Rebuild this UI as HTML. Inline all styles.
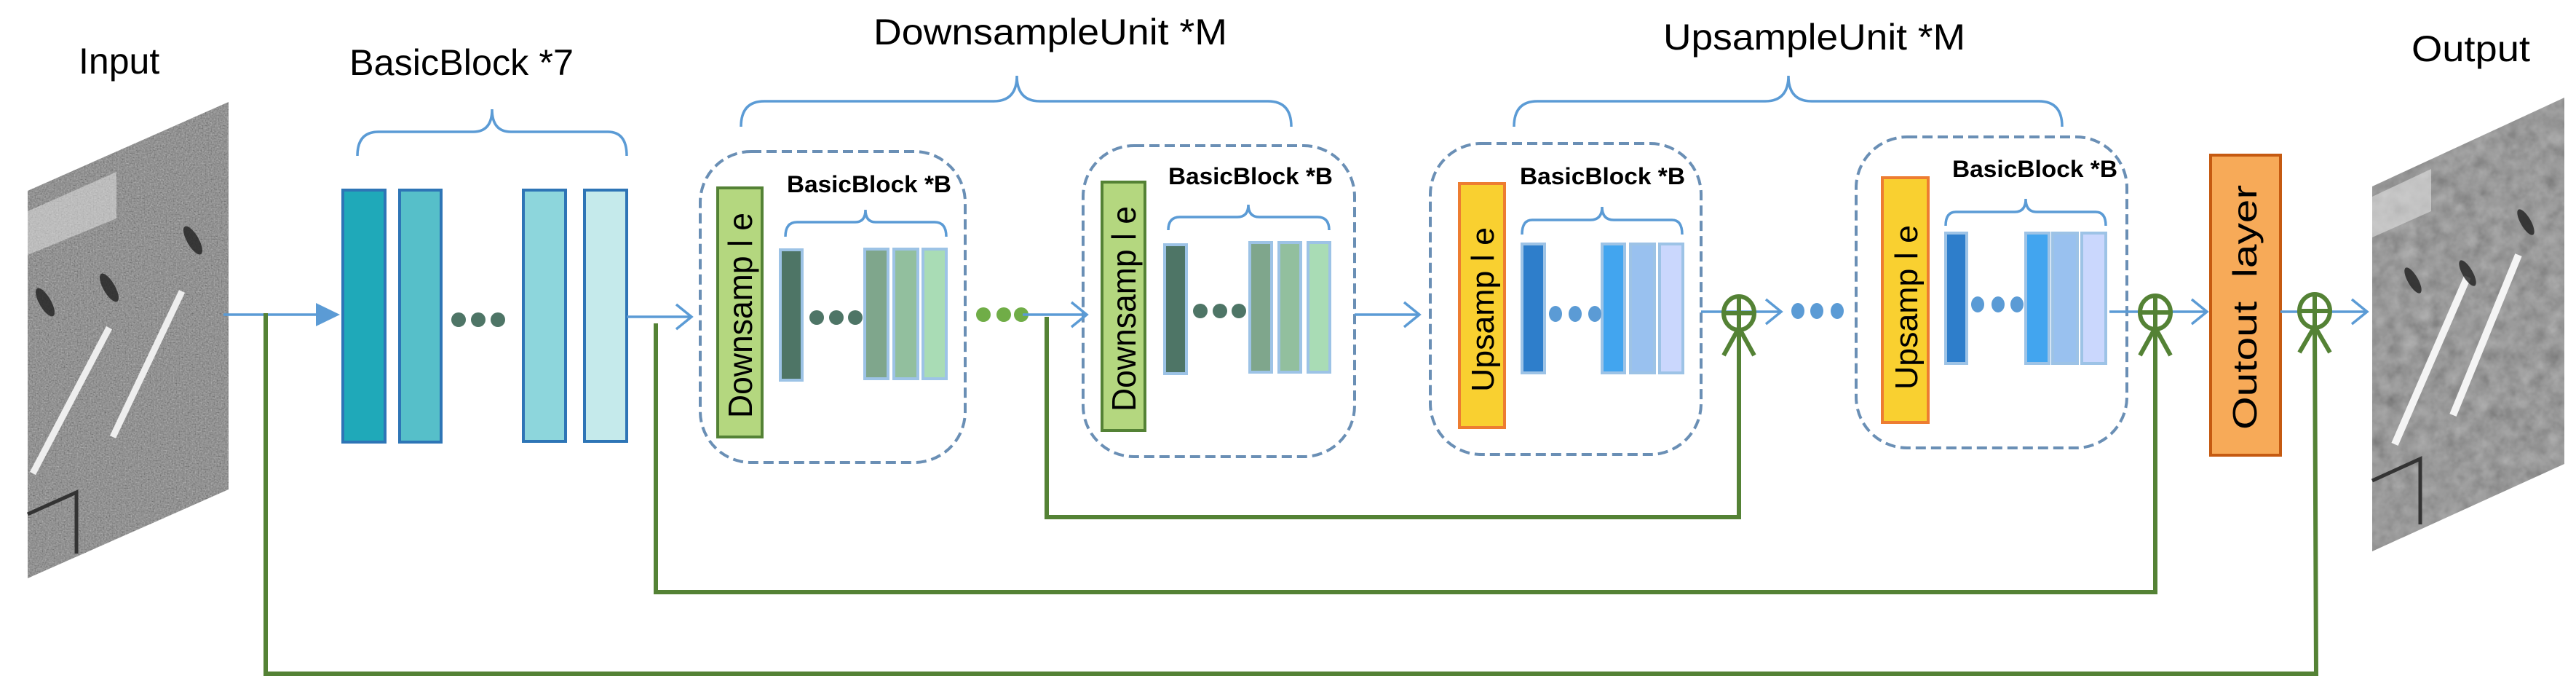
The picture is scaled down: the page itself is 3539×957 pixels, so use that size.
<!DOCTYPE html>
<html><head><meta charset="utf-8"><style>html,body{margin:0;padding:0;background:#fff}svg{display:block}</style></head>
<body>
<svg width="3539" height="957" viewBox="0 0 3539 957" xmlns="http://www.w3.org/2000/svg" font-family="Liberation Sans, sans-serif">
<defs>
<filter id="noise" x="0" y="0" width="100%" height="100%">
<feTurbulence type="fractalNoise" baseFrequency="0.5" numOctaves="2" seed="3" result="n"/>
<feColorMatrix in="n" type="matrix" values="0.33 0.33 0.33 0 0  0.33 0.33 0.33 0 0  0.33 0.33 0.33 0 0  0 0 0 0 1" result="g"/>
<feComposite in="g" in2="SourceGraphic" operator="in" result="gn"/>
<feBlend in="SourceGraphic" in2="gn" mode="multiply"/>
</filter>
<filter id="noise2" x="0" y="0" width="100%" height="100%">
<feTurbulence type="fractalNoise" baseFrequency="0.05" numOctaves="3" seed="7" result="n"/>
<feColorMatrix in="n" type="matrix" values="0.33 0.33 0.33 0 0.2  0.33 0.33 0.33 0 0.2  0.33 0.33 0.33 0 0.2  0 0 0 0 1" result="g"/>
<feComposite in="g" in2="SourceGraphic" operator="in" result="gn"/>
<feBlend in="SourceGraphic" in2="gn" mode="multiply"/>
</filter>
</defs>
<!-- Input image -->
<g filter="url(#noise)">
<polygon points="38,262 314,140 314,672 38,794" fill="#c8c8c8"/>
</g>
<polygon points="38,290 160,236 160,300 38,350" fill="#e8e8e8" opacity="0.5"/>
<line x1="45" y1="650" x2="150" y2="450" stroke="#eeeeee" stroke-width="9"/>
<line x1="155" y1="600" x2="250" y2="400" stroke="#eeeeee" stroke-width="9"/>
<g fill="#202020" opacity="0.8">
<ellipse cx="62" cy="415" rx="8" ry="22" transform="rotate(-30 62 415)"/>
<ellipse cx="150" cy="395" rx="8" ry="22" transform="rotate(-30 150 395)"/>
<ellipse cx="265" cy="330" rx="8" ry="22" transform="rotate(-30 265 330)"/>
</g>
<polyline points="38,706 105,676 105,760" fill="none" stroke="#333" stroke-width="5"/>
<text x="108" y="101" font-size="50">Input</text>
<!-- Output image -->
<g filter="url(#noise2)">
<polygon points="3259,256 3523,134 3523,637 3259,757" fill="#b4b4b4"/>
</g>
<polygon points="3259,270 3340,232 3340,290 3259,326" fill="#e0e0e0" opacity="0.6"/>
<line x1="3290" y1="610" x2="3390" y2="380" stroke="#f4f4f4" stroke-width="10"/>
<line x1="3370" y1="570" x2="3460" y2="350" stroke="#f4f4f4" stroke-width="10"/>
<g fill="#202020" opacity="0.8">
<ellipse cx="3315" cy="385" rx="7" ry="20" transform="rotate(-30 3315 385)"/>
<ellipse cx="3390" cy="375" rx="7" ry="20" transform="rotate(-30 3390 375)"/>
<ellipse cx="3470" cy="305" rx="7" ry="20" transform="rotate(-30 3470 305)"/>
</g>
<polyline points="3259,660 3325,630 3325,720" fill="none" stroke="#333" stroke-width="5"/>
<text x="3313" y="84" font-size="50" textLength="163" lengthAdjust="spacingAndGlyphs">Output</text>

<!-- titles -->
<text x="480" y="103" font-size="50" textLength="308" lengthAdjust="spacingAndGlyphs">BasicBlock *7</text>
<text x="1200" y="61" font-size="50" textLength="486" lengthAdjust="spacingAndGlyphs">DownsampleUnit *M</text>
<text x="2285" y="68" font-size="50" textLength="415" lengthAdjust="spacingAndGlyphs">UpsampleUnit *M</text>

<!-- braces -->
<g fill="none" stroke="#5b9bd5" stroke-width="3.5">
<path d="M491,214 Q491,181 520,181 L650,181 Q676,181 676,150 Q676,181 702,181 L835,181 Q861,181 861,214"/>
<path d="M1018,174 Q1018,139 1050,139 L1365,139 Q1397,139 1397,104 Q1397,139 1429,139 L1742,139 Q1774,139 1774,174"/>
<path d="M2080,174 Q2080,139 2112,139 L2425,139 Q2457,139 2457,104 Q2457,139 2489,139 L2801,139 Q2833,139 2833,174"/>
<path d="M1079,325 Q1079,305 1095,305 L1175,305 Q1189,305 1189,288 Q1189,305 1203,305 L1284,305 Q1300,305 1300,325"/>
<path d="M1605,316 Q1605,298 1621,298 L1700,298 Q1715,298 1715,281 Q1715,298 1730,298 L1810,298 Q1826,298 1826,316"/>
<path d="M2091,322 Q2091,302 2105,302 L2185,302 Q2201,302 2201,284 Q2201,302 2217,302 L2297,302 Q2311,302 2311,322"/>
<path d="M2673,310 Q2673,291 2687,291 L2768,291 Q2783,291 2783,273 Q2783,291 2798,291 L2879,291 Q2893,291 2893,310"/>
</g>

<!-- BasicBlock*7 bars -->
<g stroke="#2e75b6" stroke-width="4">
<rect x="471" y="261" width="58" height="346" fill="#1fa9b9"/>
<rect x="549" y="261" width="57" height="346" fill="#56bfc9"/>
<rect x="719" y="261" width="58" height="345" fill="#8dd6dc"/>
<rect x="803" y="261" width="58" height="345" fill="#c5eaeb"/>
</g>
<g fill="#4e7566"><circle cx="630" cy="439" r="10"/><circle cx="657" cy="439" r="10"/><circle cx="684" cy="439" r="10"/></g>

<!-- dashed boxes -->
<g fill="none" stroke="#6a8fb5" stroke-width="4" stroke-dasharray="14,7">
<rect x="962" y="208" width="364" height="427" rx="70"/>
<rect x="1488" y="200" width="373" height="427" rx="70"/>
<rect x="1965" y="197" width="372" height="427" rx="70"/>
<rect x="2550" y="188" width="372" height="427" rx="70"/>
</g>

<!-- Downsample rects -->
<g stroke="#548235" stroke-width="4" fill="#b4d77f">
<rect x="986" y="258" width="61" height="342"/>
<rect x="1514" y="250" width="59" height="341"/>
</g>
<g font-size="46" fill="#000">
<text transform="translate(1033,574) rotate(-90)" textLength="282" lengthAdjust="spacingAndGlyphs">Downsamp l e</text>
<text transform="translate(1560,565) rotate(-90)" textLength="282" lengthAdjust="spacingAndGlyphs">Downsamp l e</text>
</g>
<!-- Upsample rects -->
<g stroke="#ed7d31" stroke-width="4" fill="#f9d030">
<rect x="2005" y="252" width="62" height="335"/>
<rect x="2586" y="244" width="63" height="336"/>
</g>
<g font-size="44" fill="#000">
<text transform="translate(2052,538) rotate(-90)" textLength="226" lengthAdjust="spacingAndGlyphs">Upsamp l e</text>
<text transform="translate(2634,535) rotate(-90)" textLength="226" lengthAdjust="spacingAndGlyphs">Upsamp l e</text>
</g>
<!-- Output layer -->
<rect x="3037" y="213" width="96" height="412" fill="#f7aa58" stroke="#c55a11" stroke-width="4"/>
<text transform="translate(3100,590) rotate(-90)" font-size="46" textLength="336" lengthAdjust="spacingAndGlyphs" xml:space="preserve">Outout  layer</text>

<!-- BasicBlock *B labels -->
<g font-size="32" font-weight="bold" fill="#000">
<text x="1081" y="264" textLength="226" lengthAdjust="spacingAndGlyphs">BasicBlock *B</text>
<text x="1605" y="253" textLength="226" lengthAdjust="spacingAndGlyphs">BasicBlock *B</text>
<text x="2088" y="253" textLength="227" lengthAdjust="spacingAndGlyphs">BasicBlock *B</text>
<text x="2682" y="243" textLength="227" lengthAdjust="spacingAndGlyphs">BasicBlock *B</text>
</g>

<!-- inner bars -->
<g stroke="#9dc3e6" stroke-width="4">
<rect x="1072" y="343" width="30" height="179" fill="#4e7566"/>
<rect x="1188" y="342" width="32" height="178" fill="#7fa68c"/>
<rect x="1228" y="342" width="33" height="178" fill="#92bf9e"/>
<rect x="1268" y="342" width="32" height="178" fill="#a9dcb5"/>
<rect x="1600" y="336" width="30" height="177" fill="#4e7566"/>
<rect x="1717" y="333" width="30" height="178" fill="#7fa68c"/>
<rect x="1757" y="333" width="30" height="178" fill="#92bf9e"/>
<rect x="1797" y="333" width="30" height="178" fill="#a9dcb5"/>
<rect x="2091" y="335" width="31" height="177" fill="#2e7ecb"/>
<rect x="2201" y="335" width="31" height="177" fill="#42a5ef"/>
<rect x="2240" y="335" width="33" height="177" fill="#99c1ef"/>
<rect x="2280" y="335" width="32" height="177" fill="#cad7fd"/>
<rect x="2673" y="320" width="29" height="179" fill="#2e7ecb"/>
<rect x="2783" y="320" width="32" height="179" fill="#42a5ef"/>
<rect x="2820" y="320" width="34" height="179" fill="#99c1ef"/>
<rect x="2860" y="320" width="33" height="179" fill="#cad7fd"/>
</g>
<g fill="#4e7566">
<circle cx="1122" cy="436" r="10"/><circle cx="1149" cy="436" r="10"/><circle cx="1175" cy="436" r="10"/>
<circle cx="1649" cy="427" r="10"/><circle cx="1676" cy="427" r="10"/><circle cx="1702" cy="427" r="10"/>
</g>
<g fill="#70ad47"><circle cx="1351" cy="432" r="10"/><circle cx="1379" cy="432" r="10"/><circle cx="1403" cy="432" r="10"/></g>
<g fill="#5b9bd5">
<ellipse cx="2137" cy="431" rx="9" ry="11"/><ellipse cx="2164" cy="431" rx="9" ry="11"/><ellipse cx="2191" cy="431" rx="9" ry="11"/>
<ellipse cx="2470" cy="427" rx="9" ry="11"/><ellipse cx="2496" cy="427" rx="9" ry="11"/><ellipse cx="2524" cy="427" rx="9" ry="11"/>
<ellipse cx="2717" cy="418" rx="9" ry="11"/><ellipse cx="2745" cy="418" rx="9" ry="11"/><ellipse cx="2771" cy="418" rx="9" ry="11"/>
</g>

<!-- blue arrows -->
<g stroke="#5b9bd5" stroke-width="3.5" fill="none">
<line x1="307" y1="432" x2="440" y2="432"/>
<line x1="861" y1="435" x2="950" y2="435"/><polyline points="929,418 950,435 929,452"/>
<line x1="1405" y1="432" x2="1493" y2="432"/><polyline points="1472,415 1493,432 1472,449"/>
<line x1="1861" y1="432" x2="1950" y2="432"/><polyline points="1929,415 1950,432 1929,449"/>
<line x1="2337" y1="428" x2="2447" y2="428"/><polyline points="2426,411 2447,428 2426,445"/>
<line x1="2898" y1="428" x2="3032" y2="428"/><polyline points="3011,411 3032,428 3011,445"/>
<line x1="3133" y1="428" x2="3252" y2="428"/><polyline points="3231,411 3252,428 3231,445"/>
</g>
<polygon points="434,416 467,432 434,448" fill="#5b9bd5"/>

<!-- green skip lines -->
<g stroke="#548235" stroke-width="6" fill="none">
<polyline points="365,430 365,925 3182,925 3180,446"/>
<polyline points="901,444 901,813 2961,813 2961,446"/>
<polyline points="1438,435 1438,710 2389,710 2389,446"/>
<ellipse cx="2389" cy="430" rx="21" ry="23"/><line x1="2368" y1="430" x2="2410" y2="430"/><line x1="2389" y1="407" x2="2389" y2="453"/>
<ellipse cx="2961" cy="429" rx="21" ry="23"/><line x1="2940" y1="429" x2="2982" y2="429"/><line x1="2961" y1="406" x2="2961" y2="452"/>
<ellipse cx="3180" cy="427" rx="21" ry="23"/><line x1="3159" y1="427" x2="3201" y2="427"/><line x1="3180" y1="404" x2="3180" y2="450"/>
<polyline points="2368,488 2389,450 2410,488"/>
<polyline points="2940,488 2961,450 2982,488"/>
<polyline points="3159,484 3180,448 3201,484"/>
</g>
</svg>
</body></html>
